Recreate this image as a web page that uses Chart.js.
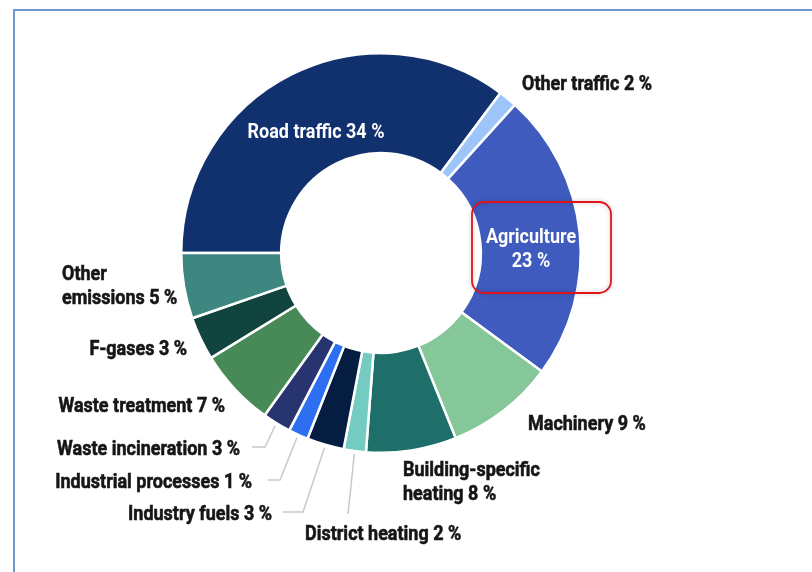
<!DOCTYPE html>
<html lang="en">
<head>
  <meta charset="UTF-8" />
  <title>Emissions by sector</title>
  <script src="https://cdn.jsdelivr.net/npm/chart.js"></script>
  <style>
    body {
      margin: 0;
      background: #fff;
    }

    .wrap {
      position: relative;
      width: 812px;
      height: 572px;
    }
  </style>
</head>
<body>

  <div class="wrap"><canvas id="donut"></canvas></div>

  <script>
    // sectors, clockwise starting at 9 o'clock
    const sectors = ['Road traffic', 'Other traffic', 'Agriculture', 'Machinery',
      'Building-specific heating', 'District heating', 'Industry fuels',
      'Industrial processes', 'Waste incineration', 'Waste treatment',
      'F-gases', 'Other emissions'];
    // shares (the labels print rounded values)
    const shares = [35.2, 1.5, 23.4, 8.8, 7.3, 1.8, 3.0, 1.6, 2.3, 6.3, 3.5, 5.3];
    const printed = [34, 2, 23, 9, 8, 2, 3, 1, 3, 7, 3, 5];
    const colours = ['#11306e', '#9ec5fa', '#3f5bbe', '#85c799', '#1e6e6a', '#74cbc2',
      '#061d42', '#2e6ff2', '#27346f', '#478a58', '#12443f', '#3e8780'];

    // no condensed face installed, so squeeze a normal bold one horizontally
    const FONT = "bold 21px Roboto, 'Liberation Sans', sans-serif";

    // label placement: x, baseline y, alignment, wrap after first word, leader elbow points
    const layout = [
      { x: 316, y: 138, align: 'center', white: true },
      { x: 522, y: 90, align: 'left' },
      { x: 531, y: 243, align: 'center', white: true, wrap: true },
      { x: 528, y: 430, align: 'left' },
      { x: 403, y: 476, align: 'left', wrap: true },
      { x: 305, y: 540, align: 'left', leader: [[348, 514]] },
      { x: 272, y: 520, align: 'right', leader: [[283, 512], [303, 512]] },
      { x: 252, y: 488, align: 'right', leader: [[268, 480], [280, 480]] },
      { x: 240, y: 455, align: 'right', leader: [[252, 447], [265, 447]] },
      { x: 225, y: 412, align: 'right' },
      { x: 187, y: 355, align: 'right' },
      { x: 62, y: 280, align: 'left', wrap: true }
    ];

    const labelPlugin = {
      id: 'labels',
      beforeDraw(chart) {
        const ctx = chart.ctx;
        ctx.save();
        // frame of the original figure
        ctx.strokeStyle = '#6f97d1';
        ctx.lineWidth = 2;
        ctx.beginPath();
        ctx.moveTo(14, 572);
        ctx.lineTo(14, 10);
        ctx.lineTo(812, 10);
        ctx.stroke();
        ctx.restore();
      },
      afterDatasetsDraw(chart) {
        const ctx = chart.ctx;
        const arcs = chart.getDatasetMeta(0).data;
        ctx.save();
        ctx.font = FONT;
        ctx.textBaseline = 'alphabetic';
        // "Other traffic 2 %" is 130px wide in the original
        const squeeze = 130 / ctx.measureText('Other traffic 2 %').width;

        layout.forEach((l, i) => {
          const text = sectors[i] + ' ' + printed[i] + ' %';
          let lines = [text];
          if (l.wrap) {
            const words = text.split(' ');
            lines = [words[0], words.slice(1).join(' ')];
          }
          const ink = l.white ? '#ffffff' : '#161616';
          ctx.fillStyle = ink;
          ctx.strokeStyle = ink;
          ctx.lineWidth = 0.6;
          ctx.textAlign = l.align;
          lines.forEach((t, k) => {
            ctx.save();
            ctx.translate(l.x, l.y + k * 24);
            ctx.scale(squeeze, 1);
            ctx.fillText(t, 0, 0);
            if (!l.white) ctx.strokeText(t, 0, 0);
            ctx.restore();
          });

          if (l.leader) {
            const a = arcs[i].getProps(['x', 'y', 'startAngle', 'endAngle', 'outerRadius'], true);
            const mid = (a.startAngle + a.endAngle) / 2;
            const r = a.outerRadius + 3;
            ctx.strokeStyle = '#c9c9c9';
            ctx.lineWidth = 1.5;
            ctx.beginPath();
            l.leader.forEach((p, k) => k ? ctx.lineTo(p[0], p[1]) : ctx.moveTo(p[0], p[1]));
            ctx.lineTo(a.x + Math.cos(mid) * r, a.y + Math.sin(mid) * r);
            ctx.stroke();
          }
        });

        // highlight box around Agriculture
        ctx.shadowColor = 'rgba(0,0,0,0.25)';
        ctx.shadowBlur = 4;
        ctx.strokeStyle = '#e3131b';
        ctx.lineWidth = 1.8;
        ctx.beginPath();
        ctx.roundRect(472, 202, 139, 91, 12);
        ctx.stroke();
        ctx.restore();
      }
    };

    new Chart(document.getElementById('donut'), {
      type: 'doughnut',
      data: {
        labels: sectors,
        datasets: [{
          data: shares,
          backgroundColor: colours,
          borderColor: '#ffffff',
          borderWidth: 2.5
        }]
      },
      options: {
        responsive: true,
        maintainAspectRatio: false,
        animation: false,
        rotation: -90,
        cutout: '50%',
        layout: { padding: { left: 180, top: 52, right: 230, bottom: 118 } },
        plugins: {
          legend: { display: false },
          tooltip: { enabled: false }
        },
        events: []
      },
      plugins: [labelPlugin]
    });
  </script>
</body>
</html>
